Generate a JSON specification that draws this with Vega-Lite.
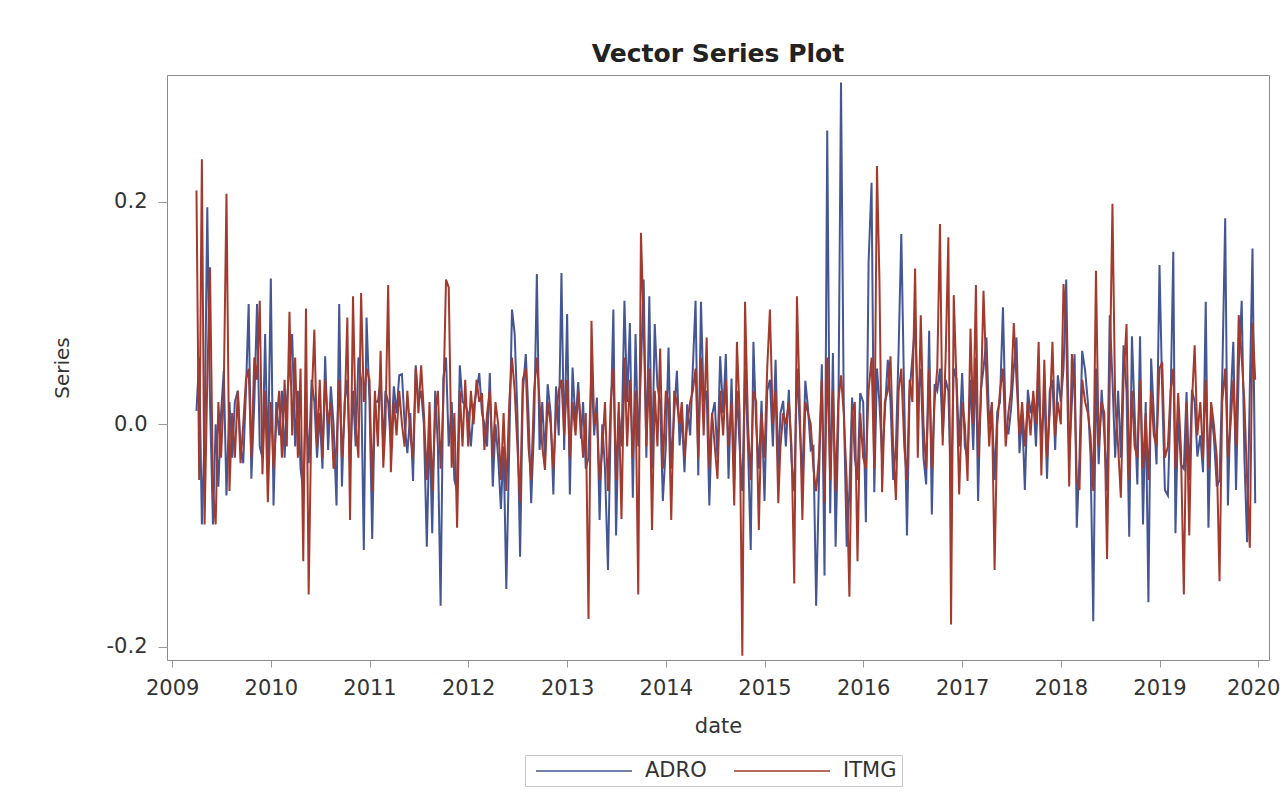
{
  "$schema": "https://vega.github.io/schema/vega-lite/v6.json",
  "autosize": "none",
  "width": 1102,
  "height": 585,
  "padding": {"left": 167, "top": 75, "right": 14, "bottom": 131},
  "background": "white",
  "title": {
    "text": "Vector Series Plot",
    "font": "DejaVu Sans",
    "fontSize": 25,
    "fontWeight": "bold",
    "color": "#222222",
    "anchor": "middle",
    "baseline": "alphabetic",
    "offset": -12
  },
  "data": {
    "values": [
      {"date": "2009-04-01", "ADRO": 0.012, "ITMG": 0.21},
      {"date": "2009-04-11", "ADRO": 0.06, "ITMG": -0.05},
      {"date": "2009-04-21", "ADRO": -0.09, "ITMG": 0.238},
      {"date": "2009-05-01", "ADRO": -0.01, "ITMG": -0.09},
      {"date": "2009-05-11", "ADRO": 0.195, "ITMG": 0.04},
      {"date": "2009-05-21", "ADRO": 0.02, "ITMG": 0.141},
      {"date": "2009-06-01", "ADRO": -0.09, "ITMG": -0.06},
      {"date": "2009-06-11", "ADRO": 0.0, "ITMG": -0.09},
      {"date": "2009-06-21", "ADRO": -0.056, "ITMG": 0.02},
      {"date": "2009-07-01", "ADRO": 0.01, "ITMG": -0.03},
      {"date": "2009-07-11", "ADRO": 0.048, "ITMG": 0.03},
      {"date": "2009-07-21", "ADRO": -0.064, "ITMG": 0.207},
      {"date": "2009-08-01", "ADRO": 0.02, "ITMG": -0.06},
      {"date": "2009-08-11", "ADRO": -0.03, "ITMG": 0.01},
      {"date": "2009-08-21", "ADRO": 0.02, "ITMG": -0.03},
      {"date": "2009-09-01", "ADRO": 0.03, "ITMG": 0.03},
      {"date": "2009-09-11", "ADRO": -0.02, "ITMG": -0.035},
      {"date": "2009-09-21", "ADRO": -0.035, "ITMG": 0.0},
      {"date": "2009-10-01", "ADRO": 0.03, "ITMG": 0.04},
      {"date": "2009-10-11", "ADRO": 0.108, "ITMG": 0.05},
      {"date": "2009-10-21", "ADRO": -0.049, "ITMG": -0.03},
      {"date": "2009-11-01", "ADRO": 0.02, "ITMG": 0.06},
      {"date": "2009-11-11", "ADRO": 0.108, "ITMG": 0.04},
      {"date": "2009-11-21", "ADRO": -0.02, "ITMG": 0.111},
      {"date": "2009-12-01", "ADRO": -0.03, "ITMG": -0.045},
      {"date": "2009-12-11", "ADRO": 0.081, "ITMG": 0.03},
      {"date": "2009-12-21", "ADRO": -0.04, "ITMG": -0.07},
      {"date": "2010-01-01", "ADRO": 0.131, "ITMG": 0.02},
      {"date": "2010-01-11", "ADRO": -0.073, "ITMG": -0.04},
      {"date": "2010-01-21", "ADRO": 0.02, "ITMG": 0.0},
      {"date": "2010-02-01", "ADRO": -0.01, "ITMG": 0.03},
      {"date": "2010-02-11", "ADRO": 0.03, "ITMG": -0.03},
      {"date": "2010-02-21", "ADRO": -0.03, "ITMG": 0.04},
      {"date": "2010-03-01", "ADRO": 0.02, "ITMG": -0.02},
      {"date": "2010-03-11", "ADRO": 0.05, "ITMG": 0.101},
      {"date": "2010-03-21", "ADRO": 0.081, "ITMG": -0.01},
      {"date": "2010-04-01", "ADRO": -0.02, "ITMG": 0.06},
      {"date": "2010-04-11", "ADRO": 0.03, "ITMG": -0.03},
      {"date": "2010-04-21", "ADRO": -0.04, "ITMG": 0.05},
      {"date": "2010-05-01", "ADRO": -0.06, "ITMG": -0.123},
      {"date": "2010-05-11", "ADRO": 0.02, "ITMG": 0.104},
      {"date": "2010-05-21", "ADRO": -0.035, "ITMG": -0.153},
      {"date": "2010-06-01", "ADRO": 0.04, "ITMG": 0.02},
      {"date": "2010-06-11", "ADRO": 0.02, "ITMG": 0.085},
      {"date": "2010-06-21", "ADRO": -0.03, "ITMG": -0.02},
      {"date": "2010-07-01", "ADRO": 0.01, "ITMG": 0.04},
      {"date": "2010-07-11", "ADRO": -0.04, "ITMG": -0.03},
      {"date": "2010-07-21", "ADRO": 0.061, "ITMG": 0.04},
      {"date": "2010-08-01", "ADRO": -0.023, "ITMG": 0.0},
      {"date": "2010-08-11", "ADRO": 0.034, "ITMG": 0.02},
      {"date": "2010-08-21", "ADRO": 0.0, "ITMG": -0.04},
      {"date": "2010-09-01", "ADRO": -0.073, "ITMG": -0.02},
      {"date": "2010-09-11", "ADRO": 0.108, "ITMG": 0.04},
      {"date": "2010-09-21", "ADRO": -0.056, "ITMG": -0.03},
      {"date": "2010-10-01", "ADRO": 0.02, "ITMG": 0.01},
      {"date": "2010-10-11", "ADRO": 0.04, "ITMG": 0.096},
      {"date": "2010-10-21", "ADRO": -0.04, "ITMG": -0.086},
      {"date": "2010-11-01", "ADRO": 0.03, "ITMG": 0.115},
      {"date": "2010-11-11", "ADRO": -0.02, "ITMG": 0.0},
      {"date": "2010-11-21", "ADRO": 0.06, "ITMG": -0.03},
      {"date": "2010-12-01", "ADRO": 0.04, "ITMG": 0.118},
      {"date": "2010-12-11", "ADRO": -0.113, "ITMG": 0.02},
      {"date": "2010-12-21", "ADRO": 0.096, "ITMG": 0.05},
      {"date": "2011-01-01", "ADRO": 0.02, "ITMG": 0.04},
      {"date": "2011-01-11", "ADRO": -0.103, "ITMG": -0.06},
      {"date": "2011-01-21", "ADRO": 0.021, "ITMG": 0.03},
      {"date": "2011-02-01", "ADRO": 0.02, "ITMG": -0.02},
      {"date": "2011-02-11", "ADRO": 0.04, "ITMG": 0.066},
      {"date": "2011-02-21", "ADRO": -0.02, "ITMG": -0.039},
      {"date": "2011-03-01", "ADRO": 0.03, "ITMG": 0.0},
      {"date": "2011-03-11", "ADRO": 0.02, "ITMG": 0.125},
      {"date": "2011-03-21", "ADRO": -0.02, "ITMG": -0.043},
      {"date": "2011-04-01", "ADRO": 0.034, "ITMG": 0.02},
      {"date": "2011-04-11", "ADRO": 0.01, "ITMG": -0.01},
      {"date": "2011-04-21", "ADRO": 0.044, "ITMG": 0.03},
      {"date": "2011-05-01", "ADRO": 0.045, "ITMG": 0.0},
      {"date": "2011-05-11", "ADRO": 0.0, "ITMG": -0.02},
      {"date": "2011-05-21", "ADRO": -0.026, "ITMG": 0.03},
      {"date": "2011-06-01", "ADRO": 0.01, "ITMG": -0.01},
      {"date": "2011-06-11", "ADRO": -0.051, "ITMG": -0.03},
      {"date": "2011-06-21", "ADRO": 0.053, "ITMG": 0.05},
      {"date": "2011-07-01", "ADRO": 0.02, "ITMG": 0.01},
      {"date": "2011-07-11", "ADRO": 0.03, "ITMG": 0.053},
      {"date": "2011-07-21", "ADRO": 0.0, "ITMG": 0.011},
      {"date": "2011-08-01", "ADRO": -0.11, "ITMG": -0.05},
      {"date": "2011-08-11", "ADRO": 0.0, "ITMG": 0.02},
      {"date": "2011-08-21", "ADRO": -0.098, "ITMG": -0.06},
      {"date": "2011-09-01", "ADRO": 0.03, "ITMG": 0.01},
      {"date": "2011-09-11", "ADRO": -0.02, "ITMG": 0.03},
      {"date": "2011-09-21", "ADRO": -0.163, "ITMG": -0.04},
      {"date": "2011-10-01", "ADRO": 0.041, "ITMG": 0.02},
      {"date": "2011-10-11", "ADRO": 0.06, "ITMG": 0.13},
      {"date": "2011-10-21", "ADRO": -0.02, "ITMG": 0.123},
      {"date": "2011-11-01", "ADRO": 0.02, "ITMG": -0.039},
      {"date": "2011-11-11", "ADRO": -0.05, "ITMG": 0.01},
      {"date": "2011-11-21", "ADRO": -0.06, "ITMG": -0.093},
      {"date": "2011-12-01", "ADRO": 0.053, "ITMG": 0.03},
      {"date": "2011-12-11", "ADRO": 0.02, "ITMG": -0.02},
      {"date": "2011-12-21", "ADRO": 0.018, "ITMG": 0.04},
      {"date": "2012-01-01", "ADRO": 0.01, "ITMG": -0.02},
      {"date": "2012-01-11", "ADRO": -0.02, "ITMG": 0.03},
      {"date": "2012-01-21", "ADRO": 0.015, "ITMG": 0.0},
      {"date": "2012-02-01", "ADRO": 0.03, "ITMG": 0.04},
      {"date": "2012-02-11", "ADRO": 0.046, "ITMG": 0.02},
      {"date": "2012-02-21", "ADRO": 0.01, "ITMG": 0.028},
      {"date": "2012-03-01", "ADRO": 0.0, "ITMG": -0.023},
      {"date": "2012-03-11", "ADRO": -0.02, "ITMG": 0.01},
      {"date": "2012-03-21", "ADRO": 0.046, "ITMG": 0.03},
      {"date": "2012-04-01", "ADRO": -0.056, "ITMG": -0.03},
      {"date": "2012-04-11", "ADRO": 0.0, "ITMG": 0.02},
      {"date": "2012-04-21", "ADRO": -0.03, "ITMG": 0.0},
      {"date": "2012-05-01", "ADRO": -0.076, "ITMG": -0.05},
      {"date": "2012-05-11", "ADRO": -0.02, "ITMG": 0.01},
      {"date": "2012-05-21", "ADRO": -0.148, "ITMG": -0.06},
      {"date": "2012-06-01", "ADRO": -0.02, "ITMG": 0.02},
      {"date": "2012-06-11", "ADRO": 0.103, "ITMG": 0.06},
      {"date": "2012-06-21", "ADRO": 0.081, "ITMG": 0.03},
      {"date": "2012-07-01", "ADRO": 0.01, "ITMG": -0.02},
      {"date": "2012-07-11", "ADRO": -0.119, "ITMG": -0.07},
      {"date": "2012-07-21", "ADRO": 0.028, "ITMG": 0.04},
      {"date": "2012-08-01", "ADRO": 0.063, "ITMG": 0.05},
      {"date": "2012-08-11", "ADRO": 0.01, "ITMG": -0.02},
      {"date": "2012-08-21", "ADRO": -0.071, "ITMG": -0.05},
      {"date": "2012-09-01", "ADRO": 0.0, "ITMG": 0.03},
      {"date": "2012-09-11", "ADRO": 0.135, "ITMG": 0.06},
      {"date": "2012-09-21", "ADRO": -0.023, "ITMG": 0.02},
      {"date": "2012-10-01", "ADRO": 0.02, "ITMG": -0.02},
      {"date": "2012-10-11", "ADRO": -0.03, "ITMG": -0.041},
      {"date": "2012-10-21", "ADRO": 0.036, "ITMG": 0.02},
      {"date": "2012-11-01", "ADRO": 0.01, "ITMG": 0.0},
      {"date": "2012-11-11", "ADRO": -0.063, "ITMG": -0.04},
      {"date": "2012-11-21", "ADRO": 0.034, "ITMG": 0.01},
      {"date": "2012-12-01", "ADRO": -0.01, "ITMG": 0.03},
      {"date": "2012-12-11", "ADRO": 0.136, "ITMG": 0.04},
      {"date": "2012-12-21", "ADRO": -0.023, "ITMG": -0.01},
      {"date": "2013-01-01", "ADRO": 0.099, "ITMG": 0.04},
      {"date": "2013-01-11", "ADRO": -0.063, "ITMG": -0.03},
      {"date": "2013-01-21", "ADRO": 0.051, "ITMG": 0.02},
      {"date": "2013-02-01", "ADRO": 0.0, "ITMG": -0.01},
      {"date": "2013-02-11", "ADRO": 0.038, "ITMG": 0.03},
      {"date": "2013-02-21", "ADRO": -0.013, "ITMG": 0.0},
      {"date": "2013-03-01", "ADRO": 0.02, "ITMG": -0.03},
      {"date": "2013-03-11", "ADRO": -0.04, "ITMG": 0.01},
      {"date": "2013-03-21", "ADRO": -0.03, "ITMG": -0.175},
      {"date": "2013-04-01", "ADRO": 0.05, "ITMG": 0.093},
      {"date": "2013-04-11", "ADRO": -0.01, "ITMG": 0.0},
      {"date": "2013-04-21", "ADRO": 0.024, "ITMG": 0.01},
      {"date": "2013-05-01", "ADRO": -0.086, "ITMG": -0.05},
      {"date": "2013-05-11", "ADRO": 0.0, "ITMG": -0.023},
      {"date": "2013-05-21", "ADRO": -0.04, "ITMG": 0.02},
      {"date": "2013-06-01", "ADRO": -0.131, "ITMG": -0.06},
      {"date": "2013-06-11", "ADRO": 0.0, "ITMG": 0.02},
      {"date": "2013-06-21", "ADRO": 0.103, "ITMG": 0.05},
      {"date": "2013-07-01", "ADRO": -0.1, "ITMG": -0.05},
      {"date": "2013-07-11", "ADRO": 0.011, "ITMG": 0.02},
      {"date": "2013-07-21", "ADRO": -0.02, "ITMG": -0.085},
      {"date": "2013-08-01", "ADRO": 0.111, "ITMG": 0.06},
      {"date": "2013-08-11", "ADRO": 0.02, "ITMG": -0.02},
      {"date": "2013-08-21", "ADRO": 0.091, "ITMG": 0.04},
      {"date": "2013-09-01", "ADRO": -0.066, "ITMG": -0.03},
      {"date": "2013-09-11", "ADRO": 0.081, "ITMG": 0.03},
      {"date": "2013-09-21", "ADRO": -0.02, "ITMG": -0.153},
      {"date": "2013-10-01", "ADRO": 0.05, "ITMG": 0.172},
      {"date": "2013-10-11", "ADRO": 0.13, "ITMG": 0.09},
      {"date": "2013-10-21", "ADRO": -0.03, "ITMG": -0.02},
      {"date": "2013-11-01", "ADRO": 0.115, "ITMG": 0.05},
      {"date": "2013-11-11", "ADRO": -0.04, "ITMG": -0.095},
      {"date": "2013-11-21", "ADRO": 0.09, "ITMG": 0.03},
      {"date": "2013-12-01", "ADRO": 0.034, "ITMG": -0.02},
      {"date": "2013-12-11", "ADRO": 0.02, "ITMG": 0.068},
      {"date": "2013-12-21", "ADRO": -0.069, "ITMG": -0.04},
      {"date": "2014-01-01", "ADRO": -0.02, "ITMG": 0.03},
      {"date": "2014-01-11", "ADRO": 0.069, "ITMG": 0.02},
      {"date": "2014-01-21", "ADRO": -0.04, "ITMG": -0.086},
      {"date": "2014-02-01", "ADRO": 0.01, "ITMG": 0.03},
      {"date": "2014-02-11", "ADRO": 0.048, "ITMG": 0.02},
      {"date": "2014-02-21", "ADRO": -0.019, "ITMG": 0.0},
      {"date": "2014-03-01", "ADRO": 0.01, "ITMG": 0.02},
      {"date": "2014-03-11", "ADRO": -0.043, "ITMG": -0.03},
      {"date": "2014-03-21", "ADRO": 0.018, "ITMG": 0.0},
      {"date": "2014-04-01", "ADRO": -0.01, "ITMG": 0.02},
      {"date": "2014-04-11", "ADRO": 0.051, "ITMG": 0.03},
      {"date": "2014-04-21", "ADRO": 0.111, "ITMG": 0.05},
      {"date": "2014-05-01", "ADRO": -0.046, "ITMG": -0.03},
      {"date": "2014-05-11", "ADRO": 0.11, "ITMG": 0.06},
      {"date": "2014-05-21", "ADRO": 0.02, "ITMG": -0.01},
      {"date": "2014-06-01", "ADRO": 0.03, "ITMG": 0.078},
      {"date": "2014-06-11", "ADRO": -0.073, "ITMG": -0.04},
      {"date": "2014-06-21", "ADRO": 0.008, "ITMG": 0.01},
      {"date": "2014-07-01", "ADRO": 0.02, "ITMG": -0.02},
      {"date": "2014-07-11", "ADRO": -0.03, "ITMG": -0.049},
      {"date": "2014-07-21", "ADRO": 0.061, "ITMG": 0.03},
      {"date": "2014-08-01", "ADRO": 0.01, "ITMG": -0.01},
      {"date": "2014-08-11", "ADRO": 0.063, "ITMG": 0.04},
      {"date": "2014-08-21", "ADRO": -0.049, "ITMG": -0.02},
      {"date": "2014-09-01", "ADRO": 0.041, "ITMG": 0.02},
      {"date": "2014-09-11", "ADRO": -0.05, "ITMG": -0.073},
      {"date": "2014-09-21", "ADRO": 0.03, "ITMG": 0.074},
      {"date": "2014-10-01", "ADRO": -0.02, "ITMG": 0.01},
      {"date": "2014-10-11", "ADRO": -0.06, "ITMG": -0.208},
      {"date": "2014-10-21", "ADRO": 0.05, "ITMG": 0.11},
      {"date": "2014-11-01", "ADRO": -0.02, "ITMG": 0.0},
      {"date": "2014-11-11", "ADRO": -0.113, "ITMG": -0.05},
      {"date": "2014-11-21", "ADRO": 0.074, "ITMG": 0.03},
      {"date": "2014-12-01", "ADRO": 0.0, "ITMG": 0.02},
      {"date": "2014-12-11", "ADRO": -0.04, "ITMG": -0.095},
      {"date": "2014-12-21", "ADRO": 0.021, "ITMG": 0.01},
      {"date": "2015-01-01", "ADRO": -0.069, "ITMG": -0.03},
      {"date": "2015-01-11", "ADRO": 0.03, "ITMG": 0.05},
      {"date": "2015-01-21", "ADRO": 0.04, "ITMG": 0.103},
      {"date": "2015-02-01", "ADRO": -0.02, "ITMG": 0.0},
      {"date": "2015-02-11", "ADRO": 0.058, "ITMG": 0.03},
      {"date": "2015-02-21", "ADRO": -0.04, "ITMG": -0.071},
      {"date": "2015-03-01", "ADRO": 0.01, "ITMG": -0.02},
      {"date": "2015-03-11", "ADRO": 0.021, "ITMG": 0.01},
      {"date": "2015-03-21", "ADRO": -0.02, "ITMG": 0.0},
      {"date": "2015-04-01", "ADRO": 0.031, "ITMG": 0.02},
      {"date": "2015-04-11", "ADRO": -0.033, "ITMG": -0.02},
      {"date": "2015-04-21", "ADRO": -0.06, "ITMG": -0.143},
      {"date": "2015-05-01", "ADRO": 0.05, "ITMG": 0.115},
      {"date": "2015-05-11", "ADRO": 0.0, "ITMG": 0.02},
      {"date": "2015-05-21", "ADRO": -0.05, "ITMG": -0.086},
      {"date": "2015-06-01", "ADRO": 0.039, "ITMG": 0.02},
      {"date": "2015-06-11", "ADRO": 0.014, "ITMG": 0.01},
      {"date": "2015-06-21", "ADRO": -0.023, "ITMG": 0.0},
      {"date": "2015-07-01", "ADRO": -0.02, "ITMG": -0.04},
      {"date": "2015-07-11", "ADRO": -0.163, "ITMG": -0.06},
      {"date": "2015-07-21", "ADRO": -0.056, "ITMG": -0.03},
      {"date": "2015-08-01", "ADRO": 0.054, "ITMG": 0.04},
      {"date": "2015-08-11", "ADRO": -0.136, "ITMG": -0.07},
      {"date": "2015-08-21", "ADRO": 0.264, "ITMG": 0.06},
      {"date": "2015-09-01", "ADRO": -0.08, "ITMG": -0.05},
      {"date": "2015-09-11", "ADRO": 0.064, "ITMG": 0.03},
      {"date": "2015-09-21", "ADRO": -0.11, "ITMG": -0.06},
      {"date": "2015-10-01", "ADRO": 0.0, "ITMG": 0.02},
      {"date": "2015-10-11", "ADRO": 0.307, "ITMG": 0.044},
      {"date": "2015-10-21", "ADRO": 0.02, "ITMG": 0.01},
      {"date": "2015-11-01", "ADRO": -0.11, "ITMG": -0.05},
      {"date": "2015-11-11", "ADRO": -0.06, "ITMG": -0.155},
      {"date": "2015-11-21", "ADRO": 0.024, "ITMG": 0.01},
      {"date": "2015-12-01", "ADRO": -0.03, "ITMG": 0.02},
      {"date": "2015-12-11", "ADRO": -0.05, "ITMG": -0.123},
      {"date": "2015-12-21", "ADRO": 0.028, "ITMG": 0.01},
      {"date": "2016-01-01", "ADRO": 0.02, "ITMG": -0.03},
      {"date": "2016-01-11", "ADRO": -0.088, "ITMG": -0.04},
      {"date": "2016-01-21", "ADRO": 0.146, "ITMG": 0.03},
      {"date": "2016-02-01", "ADRO": 0.217, "ITMG": 0.06},
      {"date": "2016-02-11", "ADRO": -0.061, "ITMG": -0.04},
      {"date": "2016-02-21", "ADRO": 0.05, "ITMG": 0.232},
      {"date": "2016-03-01", "ADRO": 0.02, "ITMG": 0.131},
      {"date": "2016-03-11", "ADRO": -0.03, "ITMG": -0.061},
      {"date": "2016-03-21", "ADRO": 0.01, "ITMG": 0.02},
      {"date": "2016-04-01", "ADRO": 0.058, "ITMG": 0.03},
      {"date": "2016-04-11", "ADRO": 0.02, "ITMG": 0.061},
      {"date": "2016-04-21", "ADRO": -0.05, "ITMG": -0.02},
      {"date": "2016-05-01", "ADRO": -0.02, "ITMG": -0.068},
      {"date": "2016-05-11", "ADRO": 0.066, "ITMG": 0.03},
      {"date": "2016-05-21", "ADRO": 0.171, "ITMG": 0.05},
      {"date": "2016-06-01", "ADRO": 0.02, "ITMG": -0.02},
      {"date": "2016-06-11", "ADRO": -0.1, "ITMG": -0.05},
      {"date": "2016-06-21", "ADRO": 0.03, "ITMG": 0.04},
      {"date": "2016-07-01", "ADRO": 0.06, "ITMG": 0.02},
      {"date": "2016-07-11", "ADRO": 0.09, "ITMG": 0.14},
      {"date": "2016-07-21", "ADRO": 0.02, "ITMG": -0.03},
      {"date": "2016-08-01", "ADRO": 0.05, "ITMG": 0.098},
      {"date": "2016-08-11", "ADRO": -0.03, "ITMG": 0.0},
      {"date": "2016-08-21", "ADRO": -0.054, "ITMG": -0.04},
      {"date": "2016-09-01", "ADRO": 0.084, "ITMG": 0.05},
      {"date": "2016-09-11", "ADRO": -0.081, "ITMG": -0.04},
      {"date": "2016-09-21", "ADRO": 0.036, "ITMG": 0.02},
      {"date": "2016-10-01", "ADRO": 0.03, "ITMG": 0.05},
      {"date": "2016-10-11", "ADRO": 0.05, "ITMG": 0.18},
      {"date": "2016-10-21", "ADRO": -0.01, "ITMG": -0.019},
      {"date": "2016-11-01", "ADRO": 0.04, "ITMG": 0.06},
      {"date": "2016-11-11", "ADRO": 0.03, "ITMG": 0.168},
      {"date": "2016-11-21", "ADRO": -0.06, "ITMG": -0.18},
      {"date": "2016-12-01", "ADRO": 0.05, "ITMG": 0.116},
      {"date": "2016-12-11", "ADRO": 0.041, "ITMG": 0.038},
      {"date": "2016-12-21", "ADRO": -0.02, "ITMG": -0.063},
      {"date": "2017-01-01", "ADRO": 0.046, "ITMG": 0.02},
      {"date": "2017-01-11", "ADRO": -0.02, "ITMG": 0.0},
      {"date": "2017-01-21", "ADRO": -0.03, "ITMG": -0.051},
      {"date": "2017-02-01", "ADRO": 0.04, "ITMG": 0.086},
      {"date": "2017-02-11", "ADRO": -0.023, "ITMG": 0.0},
      {"date": "2017-02-21", "ADRO": 0.06, "ITMG": 0.125},
      {"date": "2017-03-01", "ADRO": -0.069, "ITMG": -0.03},
      {"date": "2017-03-11", "ADRO": 0.03, "ITMG": 0.02},
      {"date": "2017-03-21", "ADRO": 0.05, "ITMG": 0.12},
      {"date": "2017-04-01", "ADRO": 0.078, "ITMG": 0.04},
      {"date": "2017-04-11", "ADRO": 0.0, "ITMG": -0.02},
      {"date": "2017-04-21", "ADRO": 0.018, "ITMG": 0.02},
      {"date": "2017-05-01", "ADRO": -0.05, "ITMG": -0.131},
      {"date": "2017-05-11", "ADRO": 0.011, "ITMG": 0.0},
      {"date": "2017-05-21", "ADRO": 0.02, "ITMG": 0.03},
      {"date": "2017-06-01", "ADRO": 0.105, "ITMG": 0.05},
      {"date": "2017-06-11", "ADRO": 0.0, "ITMG": -0.02},
      {"date": "2017-06-21", "ADRO": -0.009, "ITMG": 0.01},
      {"date": "2017-07-01", "ADRO": 0.014, "ITMG": 0.03},
      {"date": "2017-07-11", "ADRO": 0.05, "ITMG": 0.091},
      {"date": "2017-07-21", "ADRO": 0.078, "ITMG": 0.04},
      {"date": "2017-08-01", "ADRO": -0.026, "ITMG": -0.01},
      {"date": "2017-08-11", "ADRO": 0.01, "ITMG": 0.02},
      {"date": "2017-08-21", "ADRO": -0.059, "ITMG": -0.02},
      {"date": "2017-09-01", "ADRO": 0.031, "ITMG": 0.02},
      {"date": "2017-09-11", "ADRO": 0.01, "ITMG": -0.01},
      {"date": "2017-09-21", "ADRO": 0.024, "ITMG": 0.03},
      {"date": "2017-10-01", "ADRO": -0.02, "ITMG": 0.0},
      {"date": "2017-10-11", "ADRO": 0.04, "ITMG": 0.074},
      {"date": "2017-10-21", "ADRO": -0.02, "ITMG": -0.046},
      {"date": "2017-11-01", "ADRO": 0.03, "ITMG": 0.058},
      {"date": "2017-11-11", "ADRO": -0.049, "ITMG": -0.03},
      {"date": "2017-11-21", "ADRO": 0.03, "ITMG": 0.01},
      {"date": "2017-12-01", "ADRO": 0.04, "ITMG": 0.074},
      {"date": "2017-12-11", "ADRO": -0.023, "ITMG": -0.01},
      {"date": "2017-12-21", "ADRO": 0.044, "ITMG": 0.02},
      {"date": "2018-01-01", "ADRO": 0.02, "ITMG": 0.0},
      {"date": "2018-01-11", "ADRO": 0.05, "ITMG": 0.126},
      {"date": "2018-01-21", "ADRO": 0.13, "ITMG": 0.08},
      {"date": "2018-02-01", "ADRO": -0.03, "ITMG": -0.056},
      {"date": "2018-02-11", "ADRO": 0.02, "ITMG": 0.063},
      {"date": "2018-02-21", "ADRO": 0.063, "ITMG": 0.03},
      {"date": "2018-03-01", "ADRO": -0.093, "ITMG": -0.05},
      {"date": "2018-03-11", "ADRO": -0.03, "ITMG": -0.059},
      {"date": "2018-03-21", "ADRO": 0.066, "ITMG": 0.04},
      {"date": "2018-04-01", "ADRO": 0.048, "ITMG": 0.02},
      {"date": "2018-04-11", "ADRO": 0.02, "ITMG": 0.01},
      {"date": "2018-04-21", "ADRO": -0.029, "ITMG": -0.01},
      {"date": "2018-05-01", "ADRO": -0.177, "ITMG": -0.06},
      {"date": "2018-05-11", "ADRO": 0.05, "ITMG": 0.138},
      {"date": "2018-05-21", "ADRO": -0.036, "ITMG": -0.02},
      {"date": "2018-06-01", "ADRO": 0.031, "ITMG": 0.02},
      {"date": "2018-06-11", "ADRO": -0.01, "ITMG": 0.01},
      {"date": "2018-06-21", "ADRO": -0.06, "ITMG": -0.121},
      {"date": "2018-07-01", "ADRO": 0.098, "ITMG": 0.04},
      {"date": "2018-07-11", "ADRO": 0.04, "ITMG": 0.198},
      {"date": "2018-07-21", "ADRO": -0.03, "ITMG": 0.02},
      {"date": "2018-08-01", "ADRO": 0.03, "ITMG": -0.02},
      {"date": "2018-08-11", "ADRO": -0.03, "ITMG": -0.066},
      {"date": "2018-08-21", "ADRO": 0.071, "ITMG": 0.04},
      {"date": "2018-09-01", "ADRO": 0.03, "ITMG": 0.09},
      {"date": "2018-09-11", "ADRO": -0.101, "ITMG": -0.05},
      {"date": "2018-09-21", "ADRO": 0.079, "ITMG": 0.03},
      {"date": "2018-10-01", "ADRO": 0.01, "ITMG": -0.02},
      {"date": "2018-10-11", "ADRO": -0.054, "ITMG": -0.03},
      {"date": "2018-10-21", "ADRO": 0.079, "ITMG": 0.04},
      {"date": "2018-11-01", "ADRO": -0.09, "ITMG": -0.04},
      {"date": "2018-11-11", "ADRO": 0.02, "ITMG": 0.01},
      {"date": "2018-11-21", "ADRO": -0.16, "ITMG": -0.05},
      {"date": "2018-12-01", "ADRO": 0.059, "ITMG": 0.03},
      {"date": "2018-12-11", "ADRO": 0.009, "ITMG": -0.01},
      {"date": "2018-12-21", "ADRO": -0.036, "ITMG": -0.02},
      {"date": "2019-01-01", "ADRO": 0.143, "ITMG": 0.05},
      {"date": "2019-01-11", "ADRO": 0.03, "ITMG": 0.056},
      {"date": "2019-01-21", "ADRO": -0.059, "ITMG": -0.03},
      {"date": "2019-02-01", "ADRO": -0.064, "ITMG": -0.02},
      {"date": "2019-02-11", "ADRO": 0.02, "ITMG": 0.03},
      {"date": "2019-02-21", "ADRO": 0.155, "ITMG": 0.05},
      {"date": "2019-03-01", "ADRO": -0.098, "ITMG": -0.04},
      {"date": "2019-03-11", "ADRO": 0.01, "ITMG": 0.028},
      {"date": "2019-03-21", "ADRO": -0.036, "ITMG": -0.02},
      {"date": "2019-04-01", "ADRO": -0.04, "ITMG": -0.153},
      {"date": "2019-04-11", "ADRO": 0.029, "ITMG": 0.02},
      {"date": "2019-04-21", "ADRO": -0.05, "ITMG": -0.1},
      {"date": "2019-05-01", "ADRO": 0.031, "ITMG": 0.02},
      {"date": "2019-05-11", "ADRO": 0.02, "ITMG": 0.071},
      {"date": "2019-05-21", "ADRO": -0.029, "ITMG": -0.01},
      {"date": "2019-06-01", "ADRO": -0.01, "ITMG": 0.02},
      {"date": "2019-06-11", "ADRO": -0.043, "ITMG": -0.03},
      {"date": "2019-06-21", "ADRO": 0.11, "ITMG": 0.04},
      {"date": "2019-07-01", "ADRO": -0.093, "ITMG": -0.04},
      {"date": "2019-07-11", "ADRO": 0.011, "ITMG": 0.02},
      {"date": "2019-07-21", "ADRO": -0.011, "ITMG": 0.0},
      {"date": "2019-08-01", "ADRO": -0.056, "ITMG": -0.03},
      {"date": "2019-08-11", "ADRO": -0.05, "ITMG": -0.141},
      {"date": "2019-08-21", "ADRO": 0.041, "ITMG": 0.02},
      {"date": "2019-09-01", "ADRO": 0.185, "ITMG": 0.05},
      {"date": "2019-09-11", "ADRO": -0.073, "ITMG": -0.03},
      {"date": "2019-09-21", "ADRO": 0.02, "ITMG": 0.0},
      {"date": "2019-10-01", "ADRO": 0.074, "ITMG": 0.04},
      {"date": "2019-10-11", "ADRO": -0.059, "ITMG": -0.02},
      {"date": "2019-10-21", "ADRO": 0.05, "ITMG": 0.098},
      {"date": "2019-11-01", "ADRO": 0.111, "ITMG": 0.06},
      {"date": "2019-11-11", "ADRO": -0.03, "ITMG": 0.02},
      {"date": "2019-11-21", "ADRO": -0.106, "ITMG": -0.05},
      {"date": "2019-12-01", "ADRO": 0.03, "ITMG": -0.111},
      {"date": "2019-12-11", "ADRO": 0.158, "ITMG": 0.091},
      {"date": "2019-12-21", "ADRO": -0.071, "ITMG": 0.04}
    ]
  },
  "transform": [
    {"fold": ["ADRO", "ITMG"], "as": ["series", "value"]}
  ],
  "mark": {"type": "line", "strokeWidth": 2, "clip": true},
  "encoding": {
    "x": {
      "field": "date",
      "type": "temporal",
      "scale": {
        "domain": [
          {"year": 2008, "month": 12, "date": 13},
          {"year": 2020, "month": 2, "date": 10}
        ]
      },
      "axis": {
        "title": "date",
        "format": "%Y",
        "values": [
          {"year": 2009, "month": 1, "date": 1},
          {"year": 2010, "month": 1, "date": 1},
          {"year": 2011, "month": 1, "date": 1},
          {"year": 2012, "month": 1, "date": 1},
          {"year": 2013, "month": 1, "date": 1},
          {"year": 2014, "month": 1, "date": 1},
          {"year": 2015, "month": 1, "date": 1},
          {"year": 2016, "month": 1, "date": 1},
          {"year": 2017, "month": 1, "date": 1},
          {"year": 2018, "month": 1, "date": 1},
          {"year": 2019, "month": 1, "date": 1},
          {"year": 2020, "month": 1, "date": 1}
        ],
        "grid": false,
        "domain": false,
        "tickColor": "#9a9a9a",
        "tickSize": 7,
        "labelFont": "DejaVu Sans",
        "labelFontSize": 21,
        "labelColor": "#333333",
        "labelPadding": 10,
        "labelFlush": false,
        "labelOverlap": false,
        "labelOffset": {"condition": {"test": "year(datum.value) == 2020", "value": -5}, "value": 0},
        "titleFont": "DejaVu Sans",
        "titleFontSize": 21,
        "titleFontWeight": "normal",
        "titleColor": "#333333",
        "titlePadding": 17
      }
    },
    "y": {
      "field": "value",
      "type": "quantitative",
      "scale": {"domain": [-0.2118, 0.3138], "nice": false, "zero": false},
      "axis": {
        "title": "Series",
        "values": [-0.2, 0, 0.2],
        "labelExpr": "datum.value < 0 ? '-' + format(-datum.value, '.1f') : format(datum.value, '.1f')",
        "grid": false,
        "domain": false,
        "tickColor": "#9a9a9a",
        "tickSize": 9,
        "labelFont": "DejaVu Sans",
        "labelFontSize": 21,
        "labelColor": "#333333",
        "labelPadding": 11,
        "titleFont": "DejaVu Sans",
        "titleFontSize": 20,
        "titleFontWeight": "normal",
        "titleColor": "#333333",
        "titlePadding": 34
      }
    },
    "color": {
      "field": "series",
      "type": "nominal",
      "scale": {"domain": ["ADRO", "ITMG"], "range": ["#445694", "#A23A2E"]},
      "legend": {
        "title": null,
        "orient": "none",
        "legendX": 358,
        "legendY": 680,
        "direction": "horizontal",
        "symbolType": "M-4.8,0H4.8",
        "symbolSize": 400,
        "symbolStrokeWidth": 1.3,
        "symbolOffset": 43,
        "labelOffset": 50,
        "columnPadding": 21,
        "labelFont": "DejaVu Sans",
        "labelFontSize": 21,
        "labelColor": "#333333",
        "padding": 5,
        "strokeColor": "#c8c8c8",
        "fillColor": "white"
      }
    }
  },
  "config": {
    "view": {"stroke": "#8c8c8c", "strokeWidth": 1}
  }
}
